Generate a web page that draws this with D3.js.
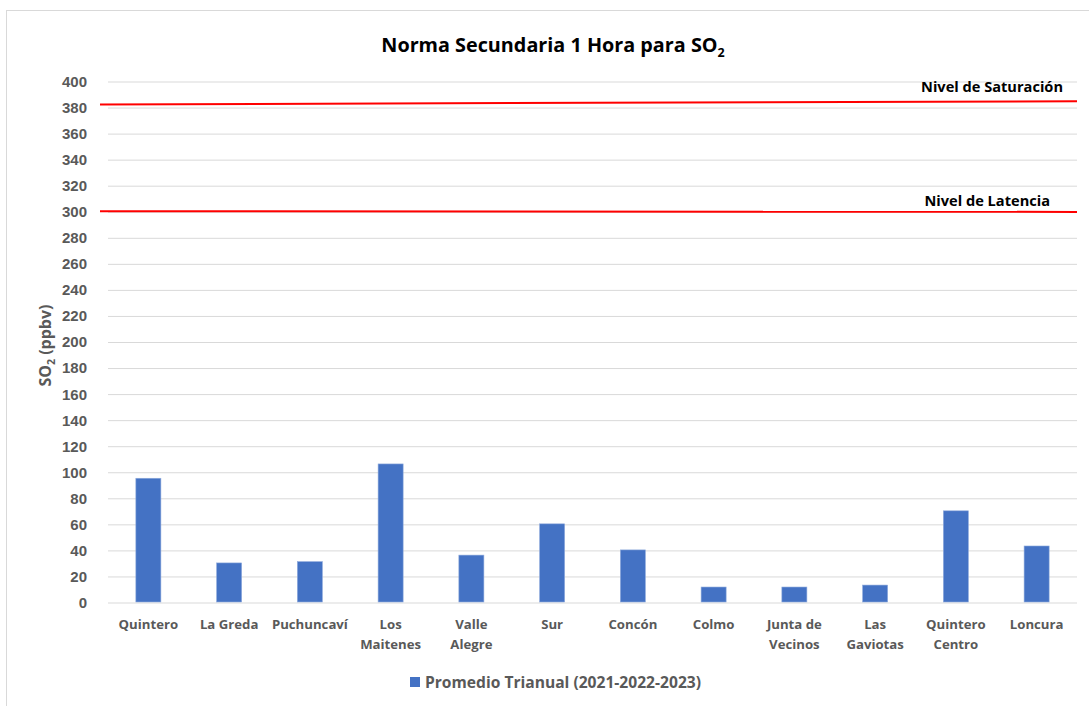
<!DOCTYPE html>
<html lang="es">
<head>
<meta charset="utf-8">
<title>Norma Secundaria 1 Hora para SO2</title>
<style>
  body { margin: 0; background: #fff; font-family: "Open Sans", Lato, sans-serif; }
  .grid line { stroke: #d9d9d9; stroke-width: 1px; }
  .grid path { display: none; }
  .yaxis text, .xlab { fill: #595959; font-weight: bold; }
  .yaxis path, .yaxis line { display: none; }
</style>
</head>
<body>
<script src="https://cdnjs.cloudflare.com/ajax/libs/d3/7.8.5/d3.min.js"></script>
<script>
// estaciones y promedio trianual (ppbv)
var stations = ["Quintero", "La Greda", "Puchuncaví", "Los Maitenes", "Valle Alegre", "Sur",
                "Concón", "Colmo", "Junta de Vecinos", "Las Gaviotas", "Quintero Centro", "Loncura"];
var stationLines = [["Quintero"], ["La Greda"], ["Puchuncaví"], ["Los", "Maitenes"], ["Valle", "Alegre"], ["Sur"],
                    ["Concón"], ["Colmo"], ["Junta de", "Vecinos"], ["Las", "Gaviotas"], ["Quintero", "Centro"], ["Loncura"]];
var promedio = [95, 30, 31, 106, 36, 60, 40, 11.5, 11.5, 13, 70, 43];
var yTicks = d3.range(0, 401, 20);
var limitNames = ["Nivel de Saturación", "Nivel de Latencia"];
var limitStart = [382, 300];
var limitEnd = [384.5, 299.5];
var seriesName = "Promedio Trianual (2021-2022-2023)";

var W = 1089, H = 706;
var margin = { left: 108, right: 12, top: 81, bottom: 104 };
var innerW = W - margin.left - margin.right;
var innerH = H - margin.top - margin.bottom;

var svg = d3.select("body").append("svg")
    .attr("width", W).attr("height", H);

// marco del gráfico
svg.append("rect")
    .attr("x", 6.5).attr("y", 10.5)
    .attr("width", W + 20).attr("height", H + 20)
    .attr("fill", "none").attr("stroke", "#d9d9d9");

var g = svg.append("g").attr("transform", "translate(" + margin.left + "," + margin.top + ")");

var x = d3.scaleBand().domain(stations).range([0, innerW]).paddingInner(0.69).paddingOuter(0.345);
var y = d3.scaleLinear().domain([0, 400]).range([innerH, 0]);

g.append("g").attr("class", "grid")
    .call(d3.axisLeft(y).tickValues(yTicks).tickSize(-innerW).tickFormat(""))
    .selectAll("line").attr("transform", "translate(0,0.5)");

g.append("g").attr("class", "yaxis")
    .attr("transform", "translate(-18,0)")
    .call(d3.axisLeft(y).tickValues(yTicks).tickSize(0))
    .selectAll("text").style("font-size", "15px").attr("dy", "0.36em");

g.selectAll("rect.bar")
    .data(promedio)
    .enter().append("rect")
    .attr("class", "bar")
    .attr("x", function(d, i) { return x(stations[i]); })
    .attr("width", x.bandwidth())
    .attr("y", function(d) { return y(d); })
    .attr("height", function(d) { return innerH - y(d); })
    .attr("fill", "#4472c4")
    .attr("stroke", "#8faadc").attr("stroke-width", 0.6);

// etiquetas de categorías
var labs = g.selectAll("text.xlab")
    .data(stationLines)
    .enter().append("text")
    .attr("class", "xlab")
    .attr("text-anchor", "middle")
    .style("font-size", "13.2px")
    .attr("transform", function(d, i) {
        return "translate(" + (x(stations[i]) + x.bandwidth() / 2) + "," + (innerH + 27) + ")";
    });
labs.selectAll("tspan")
    .data(function(d) { return d; })
    .enter().append("tspan")
    .attr("x", 0)
    .attr("dy", function(d, i) { return i === 0 ? 0 : 19.5; })
    .text(function(d) { return d; });

// niveles de la norma
limitNames.forEach(function(name, i) {
    g.append("line")
        .attr("x1", -8).attr("x2", innerW)
        .attr("y1", y(limitStart[i])).attr("y2", y(limitEnd[i]))
        .attr("stroke", "#ff0000").attr("stroke-width", 2);
});
g.append("text")
    .attr("x", innerW - 14).attr("y", y(limitEnd[0]) - 9)
    .attr("text-anchor", "end")
    .style("font-size", "14.6px").style("font-weight", "bold").attr("fill", "#000")
    .text(limitNames[0]);
g.append("text")
    .attr("x", innerW - 27).attr("y", y(limitEnd[1]) - 6)
    .attr("text-anchor", "end")
    .style("font-size", "14.6px").style("font-weight", "bold").attr("fill", "#000")
    .text(limitNames[1]);

// título
var title = svg.append("text")
    .attr("x", 553).attr("y", 52)
    .attr("text-anchor", "middle")
    .style("font-size", "19.8px").style("font-weight", "bold").attr("fill", "#000");
title.append("tspan").text("Norma Secundaria 1 Hora para SO");
title.append("tspan").attr("dy", 5).style("font-size", "12.5px").text("2");

// título eje Y
var yt = svg.append("text")
    .attr("transform", "translate(51," + (margin.top + innerH / 2 + 4) + ") rotate(-90)")
    .attr("text-anchor", "middle")
    .style("font-size", "16px").style("font-weight", "bold").attr("fill", "#595959");
yt.append("tspan").text("SO");
yt.append("tspan").attr("dy", 4).style("font-size", "10.5px").text("2");
yt.append("tspan").attr("dy", -4).text(" (ppbv)");

// leyenda
var leg = svg.append("g").attr("transform", "translate(410,677)");
leg.append("rect").attr("width", 10).attr("height", 10).attr("fill", "#4472c4");
leg.append("text").attr("x", 15).attr("y", 10.5)
    .style("font-size", "15.6px").style("font-weight", "bold").attr("fill", "#595959")
    .text(seriesName);
</script>
</body>
</html>
